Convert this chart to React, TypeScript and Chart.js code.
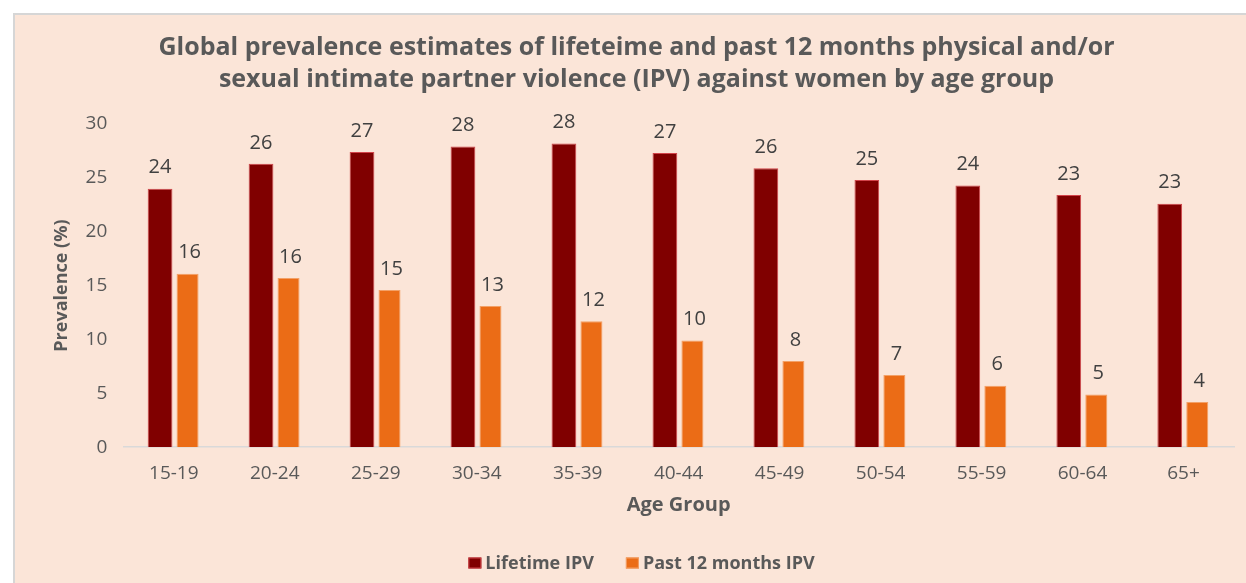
import { useEffect, useRef } from 'react';
import { Chart, registerables } from 'chart.js';

Chart.register(...registerables);

const ageGroups = ['15-19', '20-24', '25-29', '30-34', '35-39', '40-44', '45-49', '50-54', '55-59', '60-64', '65+'];
const lifetimeIPV = [24.0, 26.3, 27.4, 27.9, 28.2, 27.3, 25.9, 24.8, 24.3, 23.4, 22.6];
const past12MonthsIPV = [16.1, 15.7, 14.6, 13.1, 11.7, 9.9, 8.0, 6.7, 5.7, 4.9, 4.2];
const seriesNames = ['Lifetime IPV', 'Past 12 months IPV'];
const titleLines = [
  'Global prevalence estimates of lifeteime and past 12 months physical and/or',
  'sexual intimate partner violence (IPV) against women by age group',
];
const yAxisTitle = 'Prevalence (%)';
const xAxisTitle = 'Age Group';
const yMin = 0;
const yMax = 30;
const yStep = 5;

const FONT = '"Open Sans", sans-serif';
const TEXT = '#595959';

const valueLabels = {
  id: 'valueLabels',
  afterDatasetsDraw(chart: any) {
    const ctx = chart.ctx;
    ctx.save();
    ctx.font = `20px ${FONT}`;
    ctx.fillStyle = '#404040';
    ctx.textAlign = 'center';
    ctx.textBaseline = 'middle';
    chart.data.datasets.forEach((ds: any, i: number) => {
      const meta = chart.getDatasetMeta(i);
      meta.data.forEach((el: any, j: number) => {
        ctx.fillText(String(Math.round(ds.data[j])), el.x + (i === 1 ? 2 : 0), el.y - 21);
      });
    });
    ctx.restore();
  },
};

const bottomLegend = {
  id: 'bottomLegend',
  afterDraw(chart: any) {
    const ctx = chart.ctx;
    ctx.save();
    ctx.font = `bold 18px ${FONT}`;
    ctx.textBaseline = 'middle';
    ctx.textAlign = 'left';
    const boxW = 13;
    const boxH = 11;
    const gap = 4;
    const itemGap = 32;
    const items = chart.data.datasets.map((ds: any) => ({
      text: ds.label,
      fill: ds.backgroundColor,
      stroke: ds.borderColor,
      w: ctx.measureText(ds.label).width,
    }));
    const total = items.reduce((s: number, it: any) => s + boxW + gap + it.w, 0) + itemGap * (items.length - 1);
    const tb = chart.titleBlock;
    const cx = tb ? (tb.left + tb.right) / 2 + 5 : chart.width / 2;
    let x = cx - total / 2;
    const y = chart.height - 20;
    items.forEach((it: any) => {
      ctx.fillStyle = it.fill;
      ctx.fillRect(x, y - boxH / 2, boxW, boxH);
      ctx.strokeStyle = it.stroke;
      ctx.lineWidth = 1;
      ctx.strokeRect(x + 0.5, y - boxH / 2 + 0.5, boxW - 1, boxH - 1);
      ctx.fillStyle = TEXT;
      ctx.fillText(it.text, x + boxW + gap, y + 1);
      x += boxW + gap + it.w + itemGap;
    });
    ctx.restore();
  },
};

export default function App() {
  const canvasRef = useRef<HTMLCanvasElement | null>(null);

  useEffect(() => {
    document.body.style.margin = '0';
    const canvas = canvasRef.current;
    if (!canvas) return;
    const chart = new Chart(canvas, {
      type: 'bar',
      data: {
        labels: ageGroups,
        datasets: [
          {
            label: seriesNames[0],
            data: lifetimeIPV,
            backgroundColor: '#800000',
            borderColor: '#D2444A',
            borderWidth: 1,
            barPercentage: 0.9,
            categoryPercentage: 0.545,
          },
          {
            label: seriesNames[1],
            data: past12MonthsIPV,
            backgroundColor: '#EB6C16',
            borderColor: '#F3A066',
            borderWidth: 1,
            barPercentage: 0.8,
            categoryPercentage: 0.545,
          },
        ],
      },
      options: {
        responsive: false,
        animation: false,
        layout: { padding: { left: 24, right: 28, top: 0, bottom: 66 } },
        plugins: {
          legend: { display: false },
          tooltip: { enabled: false },
          title: {
            display: true,
            text: titleLines,
            color: TEXT,
            font: { family: FONT, size: 25, weight: 'bold', lineHeight: 32 / 25 },
            padding: { top: 17, bottom: 28 },
          },
        },
        scales: {
          x: {
            grid: { display: false, drawTicks: false },
            border: { display: true, color: '#D9D9D9', width: 1.5 },
            ticks: { color: TEXT, font: { family: FONT, size: 19 }, padding: 15, maxRotation: 0 },
            title: {
              display: true,
              text: xAxisTitle,
              color: TEXT,
              font: { family: FONT, size: 20, weight: 'bold' },
              padding: { top: -7, bottom: 0 },
            },
          },
          y: {
            min: yMin,
            max: yMax,
            grid: { display: false, drawTicks: false },
            border: { display: false },
            ticks: { stepSize: yStep, color: TEXT, font: { family: FONT, size: 19 }, padding: 16 },
            title: {
              display: true,
              text: yAxisTitle,
              color: TEXT,
              font: { family: FONT, size: 18, weight: 'bold' },
              padding: { top: 12, bottom: -3 },
            },
          },
        },
      },
      plugins: [valueLabels, bottomLegend],
    });
    return () => chart.destroy();
  }, []);

  return (
    <div style={{ position: 'fixed', left: 0, top: 0, width: 1246, height: 583, overflow: 'hidden', background: '#ffffff' }}>
      <div
        style={{
          position: 'absolute',
          left: 13,
          top: 13,
          width: 1247,
          height: 568,
          background: '#FBE5D8',
          borderLeft: '2px solid #D6D6D6',
          borderTop: '2px solid #D6D6D6',
        }}
      >
        <canvas ref={canvasRef} width={1247} height={568} style={{ display: 'block' }} />
      </div>
    </div>
  );
}
